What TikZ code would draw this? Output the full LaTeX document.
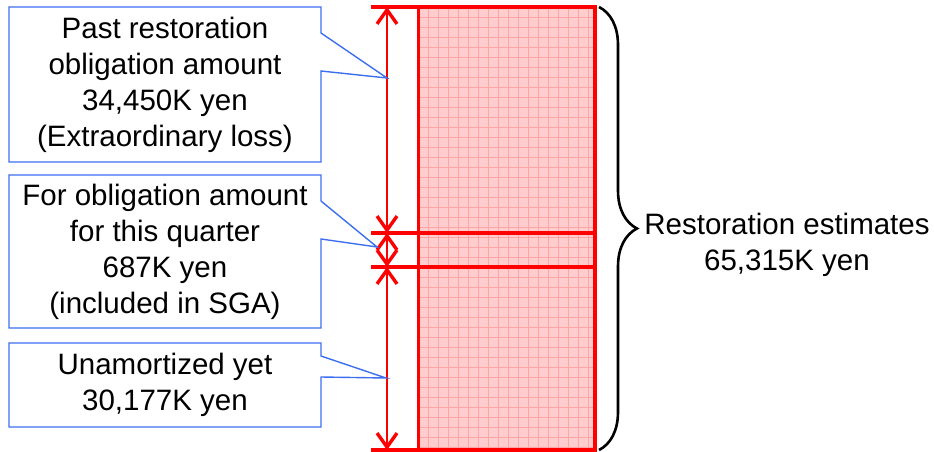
\documentclass[tikz,border=0pt]{standalone}
\usepackage{fontspec}
\setmainfont{Liberation Sans}
\usetikzlibrary{arrows.meta,decorations.pathreplacing}
\definecolor{calloutblue}{RGB}{60,110,240}
\definecolor{barred}{RGB}{255,0,0}
\definecolor{barfill}{RGB}{255,205,205}
\definecolor{gridred}{RGB}{255,165,165}
\begin{document}
\begin{tikzpicture}[x=1pt,y=-1pt,
  txt/.style={font=\fontsize{29.5}{36}\selectfont, align=center, inner sep=0pt, outer sep=0pt},
  callbox/.style={draw=calloutblue, line width=1.4pt, line join=miter},
  redline/.style={draw=barred, line width=3.4pt},
  dimarrow/.style={draw=barred, line width=2.8pt,
    {Straight Barb[length=14pt,width=20pt,line width=3.4pt]}-{Straight Barb[length=14pt,width=20pt,line width=3.4pt]}},
]
\useasboundingbox (0,0) rectangle (934,452);
% bar fill and grid
\fill[barfill] (418.5,7) rectangle (595,450);
\foreach \gx in {428,438,...,588} \draw[gridred, line width=0.6pt] (\gx,7) -- (\gx,450);
\foreach \gy in {17,27,...,447} \draw[gridred, line width=0.6pt] (418.5,\gy) -- (595,\gy);
% bar outline
\draw[redline] (418.5,7) -- (418.5,450);
\draw[redline] (595,7) -- (595,450);
\draw[redline] (371,7) -- (597,7);
\draw[redline] (371,233) -- (597,233);
\draw[redline] (371,267) -- (597,267);
\draw[redline] (371,450) -- (597,450);
% dimension arrows
\coordinate (a0) at (387,7);
\coordinate (a1) at (387,233);
\coordinate (a2) at (387,267);
\coordinate (a3) at (387,450);
\draw[dimarrow] (a1) -- (a0);
\draw[dimarrow] (a1) -- (a2);
\draw[dimarrow] (a2) -- (a3);
% brace
\coordinate (br1) at (599,7);
\coordinate (br2) at (599,450);
\draw[decorate, decoration={brace, amplitude=38pt, aspect=0.5}, line width=2.6pt] (br1) -- (br2);
\node[txt] (est) at (787,245) {Restoration estimates\\65,315K yen};
% callout tips
\coordinate (t1) at (387,78);
\coordinate (t2) at (377,247);
\coordinate (t3) at (386,378);
% callout 1
\node[txt, minimum width=312pt, minimum height=155pt] (c1) at (165,84.5)
  {Past restoration\\obligation amount\\34,450K yen\\(Extraordinary loss)};
\draw[callbox] (c1.north west) -- (c1.north east) -- (321,33) -- (t1) -- (321,71)
  -- (c1.south east) -- (c1.south west) -- cycle;
% callout 2
\node[txt, minimum width=312pt, minimum height=153pt] (c2) at (165,251.5)
  {For obligation amount\\for this quarter\\687K yen\\(included in SGA)};
\draw[callbox] (c2.north west) -- (c2.north east) -- (321,201) -- (t2) -- (321,239)
  -- (c2.south east) -- (c2.south west) -- cycle;
% callout 3
\node[txt, minimum width=312pt, minimum height=84pt] (c3) at (165,385)
  {Unamortized yet\\30,177K yen};
\draw[callbox] (c3.north west) -- (c3.north east) -- (321,356) -- (t3) -- (321,377)
  -- (c3.south east) -- (c3.south west) -- cycle;
\end{tikzpicture}
\end{document}
